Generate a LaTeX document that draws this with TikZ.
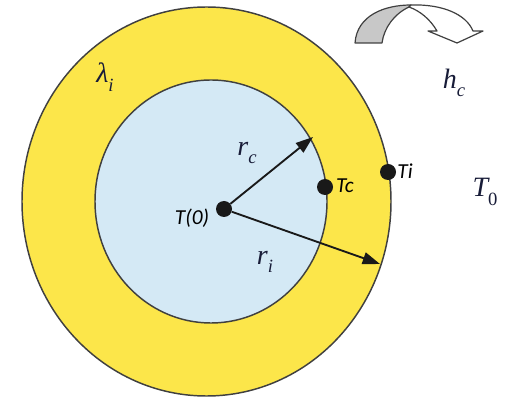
\documentclass[tikz,border=0pt]{standalone}
\usepackage{fontspec}
\usepackage{xcolor}
\usepackage{amsmath}
\usetikzlibrary{arrows.meta}
\newfontfamily\labelfont{Carlito}
\newfontfamily\symfont{Liberation Serif}
\newcommand{\symsub}[2]{#1\raisebox{-0.3em}{\fontsize{14}{16}\selectfont #2}}
\definecolor{ringyellow}{RGB}{252,230,74}
\definecolor{coreblue}{RGB}{212,233,245}
\definecolor{edgegray}{RGB}{64,64,64}
\definecolor{labelnavy}{RGB}{24,28,56}
\definecolor{flowgray}{RGB}{200,200,200}

\begin{document}
\begin{tikzpicture}[
  x=0.75pt, y=-0.75pt,
  layer/.style={draw=edgegray, line width=1.1pt},
  dot/.style={circle, fill=black!90, inner sep=0pt, minimum size=12pt},
  sym/.style={text=labelnavy, font=\symfont\itshape\fontsize{21}{24}\selectfont, inner sep=0pt},
  temp/.style={font=\labelfont\itshape\fontsize{16}{18}\selectfont, inner sep=0pt},
  radius arrow/.style={-{Triangle[length=13pt,width=9pt]}, line width=1.4pt, black!90},
  flow/.style={draw=edgegray, line width=0.9pt, line join=round},
]
  \useasboundingbox (0,0) rectangle (506,398);

  % insulation and core
  \draw[layer, fill=ringyellow] (206.5,201.5) ellipse [x radius=184.5, y radius=194.5];
  \draw[layer, fill=coreblue] (211,201.5) ellipse [x radius=116, y radius=121.5];

  % convection arrow
  \draw[flow, fill=flowgray] (355,43) .. controls (357,15) and (385,5) .. (411,5)
    -- (409,7) .. controls (394,14) and (384,28) .. (382,43) -- cycle;
  \draw[flow, fill=white] (409,7) -- (411,5) .. controls (442,4) and (466,14) .. (473,31)
    -- (483,31) -- (457,43) -- (428,31) -- (437,31) .. controls (430,19) and (420,11) .. (409,7) -- cycle;

  \node[dot] (center) at (224,209) {};
  \node[dot] (tc) at (325,187) {};
  \node[dot] (ti) at (388,172) {};
  \coordinate (rcend) at (313,137);
  \coordinate (riend) at (380,264);

  \draw[radius arrow] (center) -- (rcend);
  \draw[radius arrow] (center) -- (riend);

  \node[temp] (t0lbl) at (192,218) {T(0)};
  \node[temp] (tclbl) at (345,186) {Tc};
  \node[temp] (tilbl) at (405,171) {Ti};

  \node[sym] (lambda) at (105,77) {\symsub{λ}{i}};
  \node[sym] (hc) at (454,83) {\symsub{h}{c}};
  \node[sym] (tamb) at (485,192) {\symsub{T}{\upshape 0}};
  \node[sym] (rc) at (247,153) {\symsub{r}{c}};
  \node[sym] (ri) at (265,262) {\symsub{r}{i}};
\end{tikzpicture}
\end{document}
